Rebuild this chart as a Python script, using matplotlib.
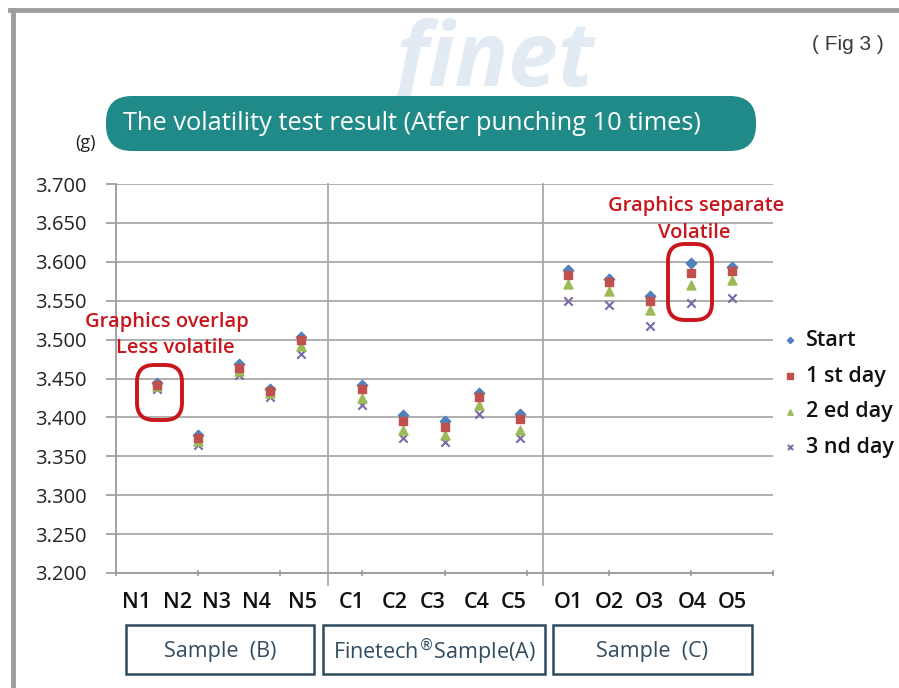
import matplotlib
matplotlib.use("Agg")
import matplotlib.pyplot as plt
from matplotlib.patches import FancyBboxPatch
from matplotlib.lines import Line2D
import matplotlib.transforms as mtransforms

plt.rcParams['font.family'] = ['Open Sans', 'DejaVu Sans']

# ---- data ----
samples = ['N1', 'N2', 'N3', 'N4', 'N5', 'C1', 'C2', 'C3', 'C4', 'C5',
           'O1', 'O2', 'O3', 'O4', 'O5']
x_vals = [1, 2, 3, 3.75, 4.5, 6, 7, 8, 8.85, 9.85, 11, 12, 13, 14, 15]
label_x = [0.49, 1.49, 2.44, 3.43, 4.53, 5.75, 6.79, 7.72, 8.79, 9.69,
           11.01, 12.01, 13.0, 14.03, 15.0]

start = [3.444, 3.377, 3.468, 3.437, 3.503, 3.442, 3.403, 3.395, 3.432, 3.405,
         3.589, 3.578, 3.556, 3.598, 3.593]
day1 = [3.442, 3.373, 3.463, 3.434, 3.500, 3.436, 3.396, 3.388, 3.426, 3.398,
        3.583, 3.574, 3.550, 3.586, 3.588]
day2 = [3.440, 3.370, 3.460, 3.431, 3.492, 3.425, 3.384, 3.377, 3.416, 3.384,
        3.571, 3.563, 3.538, 3.570, 3.576]
day3 = [3.437, 3.365, 3.454, 3.426, 3.482, 3.416, 3.373, 3.368, 3.405, 3.374,
        3.550, 3.545, 3.518, 3.547, 3.554]

groups = ['Sample  (B)', r'Finetech$^{\circledR}$Sample(A)', 'Sample  (C)']
yticks = [3.2, 3.25, 3.3, 3.35, 3.4, 3.45, 3.5, 3.55, 3.6, 3.65, 3.7]

fig = plt.figure(figsize=(8.99, 6.88), dpi=100)
fig.patch.set_facecolor('white')
W, H = 899.0, 688.0
inch = fig.dpi_scale_trans

# watermark
fig.text(395 / W, 1 - 86 / H, 'finet', fontsize=64, style='italic', weight='bold',
         color='#e2eaf3', zorder=0)

# outer frame
fig.add_artist(Line2D([10 / W, 1], [1 - 10 / H, 1 - 10 / H], color='#9e9e9e', lw=3.5))
fig.add_artist(Line2D([13 / W, 13 / W], [0, 1 - 10 / H], color='#9e9e9e', lw=3.5))

fig.text(848 / W, 1 - 45 / H, '( Fig 3 )', fontsize=15, color='#3a3a3a',
         family='Liberation Sans', ha='center', va='center')

# title box
fig.add_artist(FancyBboxPatch((1.06, (H - 151) / 100), 6.50, 0.55,
                              boxstyle='round,pad=0,rounding_size=0.26',
                              transform=inch, facecolor='#1f8a87', edgecolor='none'))
fig.text(123 / W, 1 - 124 / H, 'The volatility test result (Atfer punching 10 times)',
         fontsize=18.3, color='white', va='center', ha='left')
fig.text(85 / W, 1 - 143 / H, '(g)', fontsize=13, color='#222222', ha='center', va='center')

ax = fig.add_axes([116 / W, 1 - 573 / H, (773 - 116) / W, (573 - 184) / H])
ax.set_xlim(0, 16)
ax.set_ylim(3.2, 3.7)

ax.scatter(x_vals, day3, marker='x', s=36, color='#7b68a6', linewidths=1.5, label='3 nd day', zorder=3)
ax.scatter(x_vals, day2, marker='^', s=42, color='#9bbb59', label='2 ed day', zorder=4)
ax.scatter(x_vals, day1, marker='s', s=40, color='#c0504d', label='1 st day', zorder=5)
ax.scatter(x_vals, start, marker='D', s=28, color='#4f81bd', label='Start', zorder=2)

ax.set_yticks(yticks)
ax.set_yticklabels([f'{v:.3f}' for v in yticks], fontsize=14.5, color='#222222')
ax.yaxis.grid(True, color='#a9a9a9', lw=1.3)
ax.set_axisbelow(True)
ax.set_xticks(range(0, 17, 2))
ax.set_xticklabels([])
ax.tick_params(axis='y', length=7, width=1.2, color='#999999', pad=14)
ax.tick_params(axis='x', length=5, width=1.2, color='#999999', direction='inout')
for s in ['top', 'right']:
    ax.spines[s].set_visible(False)
for s in ['left', 'bottom']:
    ax.spines[s].set_color('#9a9a9a')
    ax.spines[s].set_linewidth(1.3)

for xs in [5.16, 10.4]:
    ax.plot([xs, xs], [3.184, 3.7], color='#a9a9a9', lw=1.3, clip_on=False, zorder=1)

trans = mtransforms.blended_transform_factory(ax.transData, fig.transFigure)
for lx, lab in zip(label_x, samples):
    ax.text(lx, 1 - 603 / H, lab, transform=trans, ha='center', va='center',
            fontsize=15.5, weight='semibold', color='#111111')

# group boxes
box_px = [(126, 314), (323, 545), (553, 752)]
for (x0, x1), g in zip(box_px, groups):
    fig.add_artist(FancyBboxPatch((x0 / 100, (H - 674) / 100), (x1 - x0) / 100, 0.49,
                                  boxstyle='square,pad=0', transform=inch,
                                  facecolor='white', edgecolor='#2d4b5f', lw=1.8))
    fig.text((x0 + x1) / 2 / W, 1 - 652 / H, g, fontsize=15.5, color='#2f4c61',
             ha='center', va='center')

# annotations
red = '#c8161d'
fig.text(167 / W, 1 - 322 / H, 'Graphics overlap', fontsize=14.5, color=red,
         weight='semibold', ha='center', va='center')
fig.text(175 / W, 1 - 348 / H, 'Less volatile', fontsize=14.5, color=red,
         weight='semibold', ha='center', va='center')
fig.text(696 / W, 1 - 206 / H, 'Graphics separate', fontsize=14.5, color=red,
         weight='semibold', ha='center', va='center')
fig.text(694 / W, 1 - 233 / H, 'Volatile', fontsize=14.5, color=red,
         weight='semibold', ha='center', va='center')
for (x0, y0, x1, y1) in [(137, 365, 182, 420), (668, 244, 712, 320)]:
    fig.add_artist(FancyBboxPatch((x0 / 100, (H - y1) / 100), (x1 - x0) / 100, (y1 - y0) / 100,
                                  boxstyle='round,pad=0,rounding_size=0.17', transform=inch,
                                  facecolor='none', edgecolor=red, lw=2.8, zorder=6))

handles, labels = ax.get_legend_handles_labels()
leg = ax.legend(handles[::-1], labels[::-1], loc='center left',
                bbox_to_anchor=(773 / W, 1 - 394 / H), bbox_transform=fig.transFigure,
                frameon=False, fontsize=15.5, handlelength=0.8, handletextpad=0.35,
                labelspacing=0.68, markerscale=0.6, borderaxespad=0)
for t in leg.get_texts():
    t.set_fontweight('semibold')
    t.set_color('#111111')

fig.savefig('out.png', dpi=100)
